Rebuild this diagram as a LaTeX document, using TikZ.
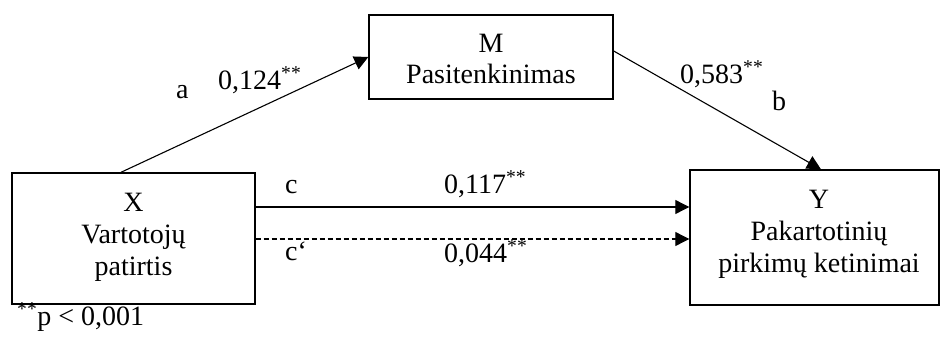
\documentclass[tikz,border=0pt]{standalone}
\usepackage{fontspec}
\setmainfont{Liberation Serif}
\usetikzlibrary{arrows.meta}

\begin{document}
\begin{tikzpicture}[x=1pt,y=-1pt,
  font=\fontsize{28}{32}\selectfont,
  varbox/.style={draw=black, line width=1.4pt, fill=white, rectangle, inner sep=0pt},
  boxtext/.style={anchor=base, inner sep=0pt},
  lbl/.style={anchor=base west, inner sep=0pt},
  path/.style={line width=1.1pt, -{Triangle[length=14pt,width=14pt]}},
  ]
  \useasboundingbox (0,0) rectangle (940,340);

  % variable boxes
  \node[varbox, minimum width=243pt, minimum height=131pt] (X) at (133.5,238.5) {};
  \node[varbox, minimum width=244pt, minimum height=84pt]  (M) at (491,57) {};
  \node[varbox, minimum width=249pt, minimum height=135pt] (Y) at (814.5,237.5) {};

  % box captions (first baseline given)
  \node[boxtext] (Xt) at (133.5,211) {\begin{tabular}[t]{@{}c@{}}X\\Vartotojų\\patirtis\end{tabular}};
  \node[boxtext] (Mt) at (491,52) {\begin{tabular}[t]{@{}c@{}}M\\Pasitenkinimas\end{tabular}};
  \node[boxtext] (Yt) at (819,208) {\begin{tabular}[t]{@{}c@{}}Y\\Pakartotinių\\pirkimų ketinimai\end{tabular}};

  % paths
  \draw[path] (121,0 |- X.north) -- (M.west);
  \draw[path] (M.east |- 0,51) -- (821,0 |- Y.north);
  \draw[path] (X.east |- 0,207) -- (Y.west |- 0,207);
  \draw[path, dash pattern=on 5pt off 3pt] (X.east |- 0,239) -- (Y.west |- 0,239);

  % path coefficients
  \node[lbl] (la) at (176,98) {a};
  \node[lbl] (va) at (218,89) {0,124\textsuperscript{**}};
  \node[lbl] (vb) at (680,83) {0,583\textsuperscript{**}};
  \node[lbl] (lb) at (772,110) {b};
  \node[lbl] (lc) at (285,193) {c};
  \node[lbl] (vc) at (444,193) {0,117\textsuperscript{**}};
  \node[lbl] (lcp) at (285,260) {c‘};
  \node[lbl] (vcp) at (444,262) {0,044\textsuperscript{**}};

  % significance note
  \node[lbl] (note) at (17,325) {\textsuperscript{**}p < 0,001};
\end{tikzpicture}
\end{document}
